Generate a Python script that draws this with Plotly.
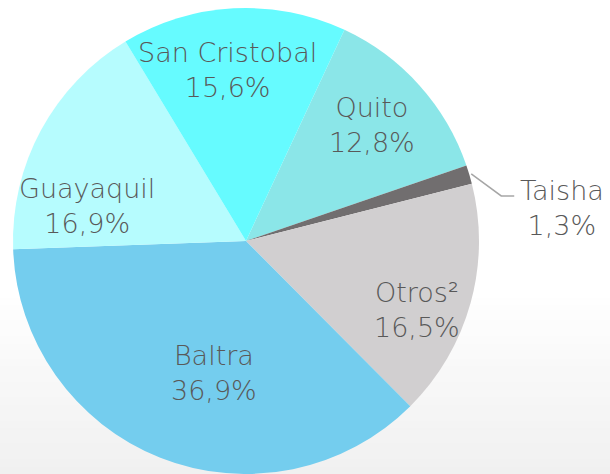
import math
import plotly.graph_objects as go

# ---- data ----
labels = ["Quito", "Taisha", "Otros²", "Baltra", "Guayaquil", "San Cristobal"]
values = [12.8, 1.3, 16.5, 36.9, 16.9, 15.6]
value_text = ["12,8%", "1,3%", "16,5%", "36,9%", "16,9%", "15,6%"]

# ---- style ----
colors = ["#8BE6E8", "#716E6F", "#D1CFD0", "#74CDEE", "#B6FCFE", "#66FBFF"]
text_color = "#595959"
font_family = "DejaVu Sans"
FONT_SIZE = 27
W, H = 610, 474
CX, CY, R = 246, 241, 233
ROTATION = 25
# label placement: (radius fraction, angle shift in degrees)
label_place = [(0.735, -0.6), None, (0.79, 6.5), (0.583, -8.0), (0.70, -16.0), (0.738, -3.2)]

fig = go.Figure()
fig.add_trace(go.Pie(
    labels=labels,
    values=values,
    sort=False,
    direction="clockwise",
    rotation=ROTATION,
    marker=dict(colors=colors, line=dict(width=0)),
    textinfo="none",
    hoverinfo="label+percent",
    showlegend=False,
    domain=dict(x=[(CX - R) / W, (CX + R) / W], y=[(H - CY - R) / H, (H - CY + R) / H]),
))

total = sum(values)
annotations = []
shapes = []

# background gradient (white to light gray at bottom)
n_bands = 24
y0 = 290
for i in range(n_bands):
    t = (i + 0.5) / n_bands
    g = int(round(255 - (255 - 240) * t))
    ya = y0 + (H - y0) * i / n_bands
    yb = y0 + (H - y0) * (i + 1) / n_bands + 1
    shapes.append(dict(type="rect", xref="paper", yref="paper",
                       x0=0, x1=1, y0=max(0, 1 - yb / H), y1=1 - ya / H,
                       fillcolor=f"rgb({g},{g},{g})", line=dict(width=0), layer="below"))

font = dict(family=font_family, size=FONT_SIZE, color=text_color, weight=200)
cum = 0.0
for i, v in enumerate(values):
    mid = ROTATION + (cum + v / 2) / total * 360
    cum += v
    text = f"{labels[i]}<br>{value_text[i]}"
    if label_place[i] is not None:
        rf, shift = label_place[i]
        a = math.radians(mid + shift)
        px = CX + rf * R * math.sin(a)
        py = CY - rf * R * math.cos(a)
        annotations.append(dict(x=px / W, y=1 - py / H, xref="paper", yref="paper",
                                text=text, showarrow=False, xanchor="center", yanchor="middle",
                                font=font, align="center"))
    else:
        a = math.radians(mid)
        sx = CX + (R + 2) * math.sin(a)
        sy = CY - (R + 2) * math.cos(a)
        ex, ey = sx + 30, sy + 22
        fx = ex + 13
        shapes.append(dict(type="path", xref="paper", yref="paper",
                           path=f"M {sx / W},{1 - sy / H} L {ex / W},{1 - ey / H} L {fx / W},{1 - ey / H}",
                           line=dict(color="#A6A6A6", width=1.5)))
        annotations.append(dict(x=(fx + 48) / W, y=1 - (ey + 12) / H, xref="paper", yref="paper",
                                text=text, showarrow=False, xanchor="center", yanchor="middle",
                                font=font, align="center"))

fig.update_layout(
    width=W, height=H,
    margin=dict(l=0, r=0, t=0, b=0),
    paper_bgcolor="white",
    plot_bgcolor="white",
    annotations=annotations,
    shapes=shapes,
)
fig.write_html("out.html", config={"displayModeBar": False},
               post_script="document.body.style.margin='0';document.body.style.overflow='hidden';")
